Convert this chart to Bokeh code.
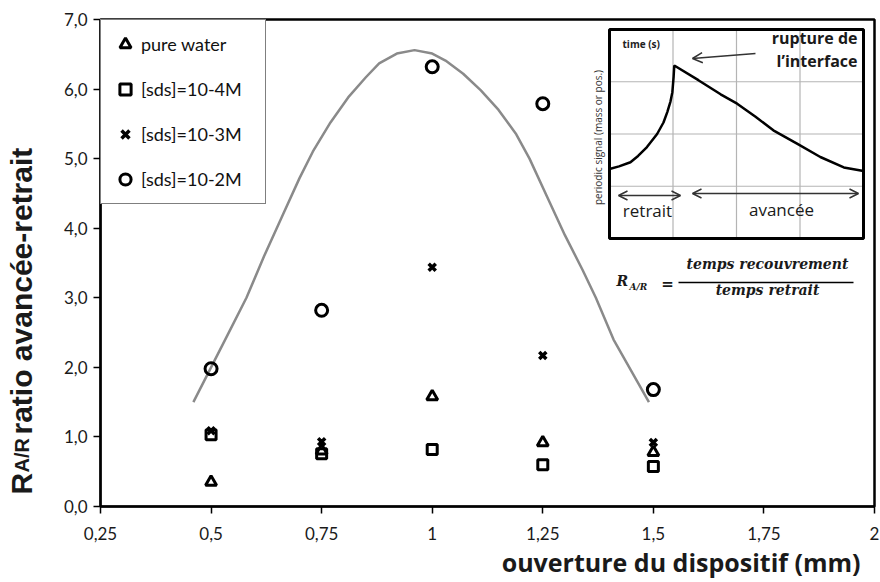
import math
from bokeh.plotting import figure
from bokeh.layouts import row
from bokeh.models import Range1d, FixedTicker, Label, Arrow, OpenHead, Legend, LegendItem, Title
from bokeh.embed import file_html
from bokeh.resources import INLINE

# ---------------- data ----------------
x_ticks = [0.25, 0.5, 0.75, 1.0, 1.25, 1.5, 1.75, 2.0]
x_tick_labels = ["0,25", "0,5", "0,75", "1", "1,25", "1,5", "1,75", "2"]
y_ticks = [0, 1, 2, 3, 4, 5, 6, 7]
y_tick_labels = ["0,0", "1,0", "2,0", "3,0", "4,0", "5,0", "6,0", "7,0"]

ouverture = [0.5, 0.75, 1.0, 1.25, 1.5]
pure_water = [0.35, 0.80, 1.58, 0.92, 0.78]
sds_1e4 = [1.03, 0.76, 0.82, 0.60, 0.575]
sds_1e3 = [1.09, 0.93, 3.44, 2.17, 0.92]
sds_1e2 = [1.98, 2.82, 6.32, 5.79, 1.68]

series_labels = ["pure water", "[sds]=10-4M", "[sds]=10-3M", "[sds]=10-2M"]

# gray trend curve
trend_x = [0.46, 0.50, 0.54, 0.58, 0.62, 0.66, 0.70, 0.73, 0.77, 0.81, 0.85, 0.88, 0.92,
           0.96, 1.00, 1.03, 1.07, 1.11, 1.15, 1.19, 1.22, 1.26, 1.30, 1.34, 1.37, 1.41,
           1.45, 1.49]
trend_y = [1.50, 2.00, 2.50, 3.00, 3.60, 4.16, 4.72, 5.10, 5.52, 5.88, 6.17, 6.37, 6.51,
           6.56, 6.51, 6.41, 6.22, 5.98, 5.70, 5.35, 5.00, 4.45, 3.90, 3.40, 3.00, 2.40,
           1.95, 1.50]

# inset: periodic signal (schematic, inset units 0..4)
signal_t = [0.00, 0.15, 0.33, 0.45, 0.59, 0.75, 0.85, 0.91, 0.96, 0.99, 1.01, 1.02,
            1.40, 1.75, 2.01, 2.30, 2.58, 2.96, 3.32, 3.69, 4.00]
signal_v = [1.33, 1.38, 1.46, 1.58, 1.75, 2.00, 2.22, 2.42, 2.62, 2.80, 3.10, 3.31,
            3.03, 2.76, 2.58, 2.33, 2.07, 1.81, 1.56, 1.36, 1.29]
inset_grid = [1, 2, 3]

# ---------------- layout geometry ----------------
W, H = 880, 582
LW = 50                                   # width of the strip holding the y title
FL, FR, FT, FB = 100, 874, 19, 506        # frame edges in page pixels

# left strip with the y-axis title (subscripted R A/R)
side = figure(width=LW, height=H, x_range=Range1d(0, LW), y_range=Range1d(FB, FT),
              output_backend="svg", toolbar_location=None, x_axis_type=None, y_axis_type=None,
              min_border_left=0, min_border_right=0, min_border_top=FT, min_border_bottom=H - FB)
side.outline_line_color = None
side.background_fill_color = "white"
side.border_fill_color = "white"
side.grid.visible = False
yl = dict(text_font="Liberation Sans", text_font_style="bold", text_color="#1a1a1a",
          angle=math.pi / 2, text_align="left", text_baseline="alphabetic")
side.add_layout(Label(x=21, y=494, text="R", text_font_size="30px", **yl))
side.add_layout(Label(x=21, y=472, text="A/R", text_font_size="20px", **yl))
side.add_layout(Label(x=21, y=434, text="ratio avancée-retrait", text_font_size="30px", **yl))

# main chart
p = figure(width=W - LW, height=H, x_range=Range1d(0.25, 2.0), y_range=Range1d(0, 7),
           output_backend="svg", toolbar_location=None,
           min_border_left=FL - LW, min_border_right=W - FR,
           min_border_top=FT, min_border_bottom=H - FB)
p.background_fill_color = "white"
p.border_fill_color = "white"
p.xgrid.visible = False
p.ygrid.visible = False
p.outline_line_color = "black"
p.outline_line_width = 2.5

# helper ranges: page pixels, and inset units
IL, IR, IT, IB = 609, 863, 29, 238
iux = (IR - IL) / 4.0
iuy = (IB - IT) / 4.0
p.extra_x_ranges = {"px": Range1d(FL, FR),
                    "ix": Range1d(-(IL - FL) / iux, 4 + (FR - IR) / iux)}
p.extra_y_ranges = {"px": Range1d(FB, FT),
                    "iy": Range1d(-(FB - IB) / iuy, 4 + (IT - FT) / iuy)}

p.xaxis.ticker = FixedTicker(ticks=x_ticks)
p.xaxis.major_label_overrides = dict(zip(x_ticks, x_tick_labels))
p.yaxis.ticker = FixedTicker(ticks=y_ticks)
p.yaxis.major_label_overrides = dict(zip(y_ticks, y_tick_labels))
for ax in p.axis:
    ax.axis_line_color = "black"
    ax.axis_line_width = 2
    ax.major_tick_line_color = "black"
    ax.major_tick_line_width = 1.5
    ax.major_tick_out = 7
    ax.major_tick_in = 0
    ax.minor_tick_out = 0
    ax.minor_tick_in = 0
    ax.major_label_text_font = "Lato"
    ax.major_label_text_font_size = "17px"
    ax.major_label_text_color = "#1a1a1a"
p.xaxis.major_label_standoff = 13
p.yaxis.major_label_standoff = 6

# trend curve
p.line(trend_x, trend_y, line_color="#8a8a8a", line_width=2.5)

# data markers
mk = dict(line_color="black", fill_alpha=0, line_width=3)
r1 = p.scatter(ouverture, pure_water, marker="triangle", size=11, **mk)
r2 = p.scatter(ouverture, sds_1e4, marker="square", size=10, **mk)
r3 = p.scatter(ouverture, sds_1e3, marker="x", size=10, line_color="black", line_width=3.5)
r4 = p.scatter(ouverture, sds_1e2, marker="circle", size=12, **mk)

legend = Legend(items=[LegendItem(label=series_labels[i], renderers=[r])
                       for i, r in enumerate([r1, r2, r3, r4])],
                location="top_left", margin=0, padding=10, spacing=17,
                glyph_width=28, glyph_height=28, label_height=28, label_width=114,
                label_standoff=2, label_text_font="Lato", label_text_font_size="18px",
                label_text_color="#111", border_line_color="black",
                border_line_width=1.5, background_fill_color="white",
                background_fill_alpha=1.0)
p.add_layout(legend)

# ---------------- inset ----------------
ik = dict(x_range_name="ix", y_range_name="iy")
p.quad(left=[0], right=[4], bottom=[0], top=[4], fill_color="white", line_color=None, **ik)
p.segment(x0=inset_grid, y0=[0] * 3, x1=inset_grid, y1=[4] * 3,
          line_color="#b4b4b4", line_width=1.2, **ik)
p.segment(x0=[0] * 3, y0=inset_grid, x1=[4] * 3, y1=inset_grid,
          line_color="#b4b4b4", line_width=1.2, **ik)
p.line(signal_t, signal_v, line_color="black", line_width=2.5, **ik)
p.quad(left=[0], right=[4], bottom=[0], top=[4], fill_color=None,
       line_color="black", line_width=3, **ik)

pk = dict(x_range_name="px", y_range_name="px")
p.add_layout(Label(x=622, y=50, text="time (s)", text_font="Open Sans", text_font_style="bold",
                   text_font_size="10px", text_color="#222", **pk))
p.add_layout(Label(x=857, y=48, text="rupture de", text_font="Open Sans", text_font_style="bold",
                   text_font_size="16px", text_align="right", text_color="#1a1a1a", **pk))
p.add_layout(Label(x=857, y=71, text="l\u2019interface", text_font="Open Sans", text_font_style="bold",
                   text_font_size="16px", text_align="right", text_color="#1a1a1a", **pk))
p.add_layout(Arrow(x_start=755, y_start=53, x_end=692, y_end=58, line_color="#333", line_width=1.5,
                   end=OpenHead(size=10, line_color="#333", line_width=1.5), **pk))
p.add_layout(Arrow(x_start=618, y_start=195, x_end=680, y_end=195, line_color="#333", line_width=1.5,
                   start=OpenHead(size=9, line_color="#333", line_width=1.5),
                   end=OpenHead(size=9, line_color="#333", line_width=1.5), **pk))
p.add_layout(Arrow(x_start=692, y_start=193, x_end=858, y_end=193, line_color="#333", line_width=1.5,
                   start=OpenHead(size=9, line_color="#333", line_width=1.5),
                   end=OpenHead(size=9, line_color="#333", line_width=1.5), **pk))
p.add_layout(Label(x=647, y=221, text="retrait", text_font="Open Sans", text_font_size="17px",
                   text_align="center", text_color="#1a1a1a", **pk))
p.add_layout(Label(x=781, y=220, text="avancée", text_font="Open Sans", text_font_size="17px",
                   text_align="center", text_color="#1a1a1a", **pk))
p.add_layout(Label(x=597, y=137, text="periodic signal (mass or pos.)", text_font="Open Sans",
                   text_font_size="10px", text_align="center", text_baseline="middle",
                   angle=math.pi / 2, text_color="#333", **pk))

# formula
fk = dict(text_font="DejaVu Serif", text_font_style="bold italic", text_color="#1a1a1a")
p.add_layout(Label(x=616, y=288, text="R", text_font_size="14px", **fk, **pk))
p.add_layout(Label(x=629, y=291, text="A/R", text_font_size="9px", **fk, **pk))
p.add_layout(Label(x=667, y=283, text="=", text_font_size="15px", text_align="center",
                   text_baseline="middle", **fk, **pk))
p.segment(x0=[678], y0=[282], x1=[853], y1=[282], line_color="black", line_width=1.5, **pk)
p.add_layout(Label(x=767, y=271, text="temps recouvrement", text_font_size="14px",
                   text_align="center", **fk, **pk))
p.add_layout(Label(x=767, y=297, text="temps retrait", text_font_size="14px",
                   text_align="center", **fk, **pk))

# x axis title
p.add_layout(Title(text="ouverture du dispositif (mm)", align="right", offset=14, standoff=1,
                   text_font="Open Sans", text_font_style="bold", text_font_size="25px",
                   text_color="#1a1a1a"), "below")

page = row(side, p)
open("out.html", "w").write(file_html(page, INLINE))
